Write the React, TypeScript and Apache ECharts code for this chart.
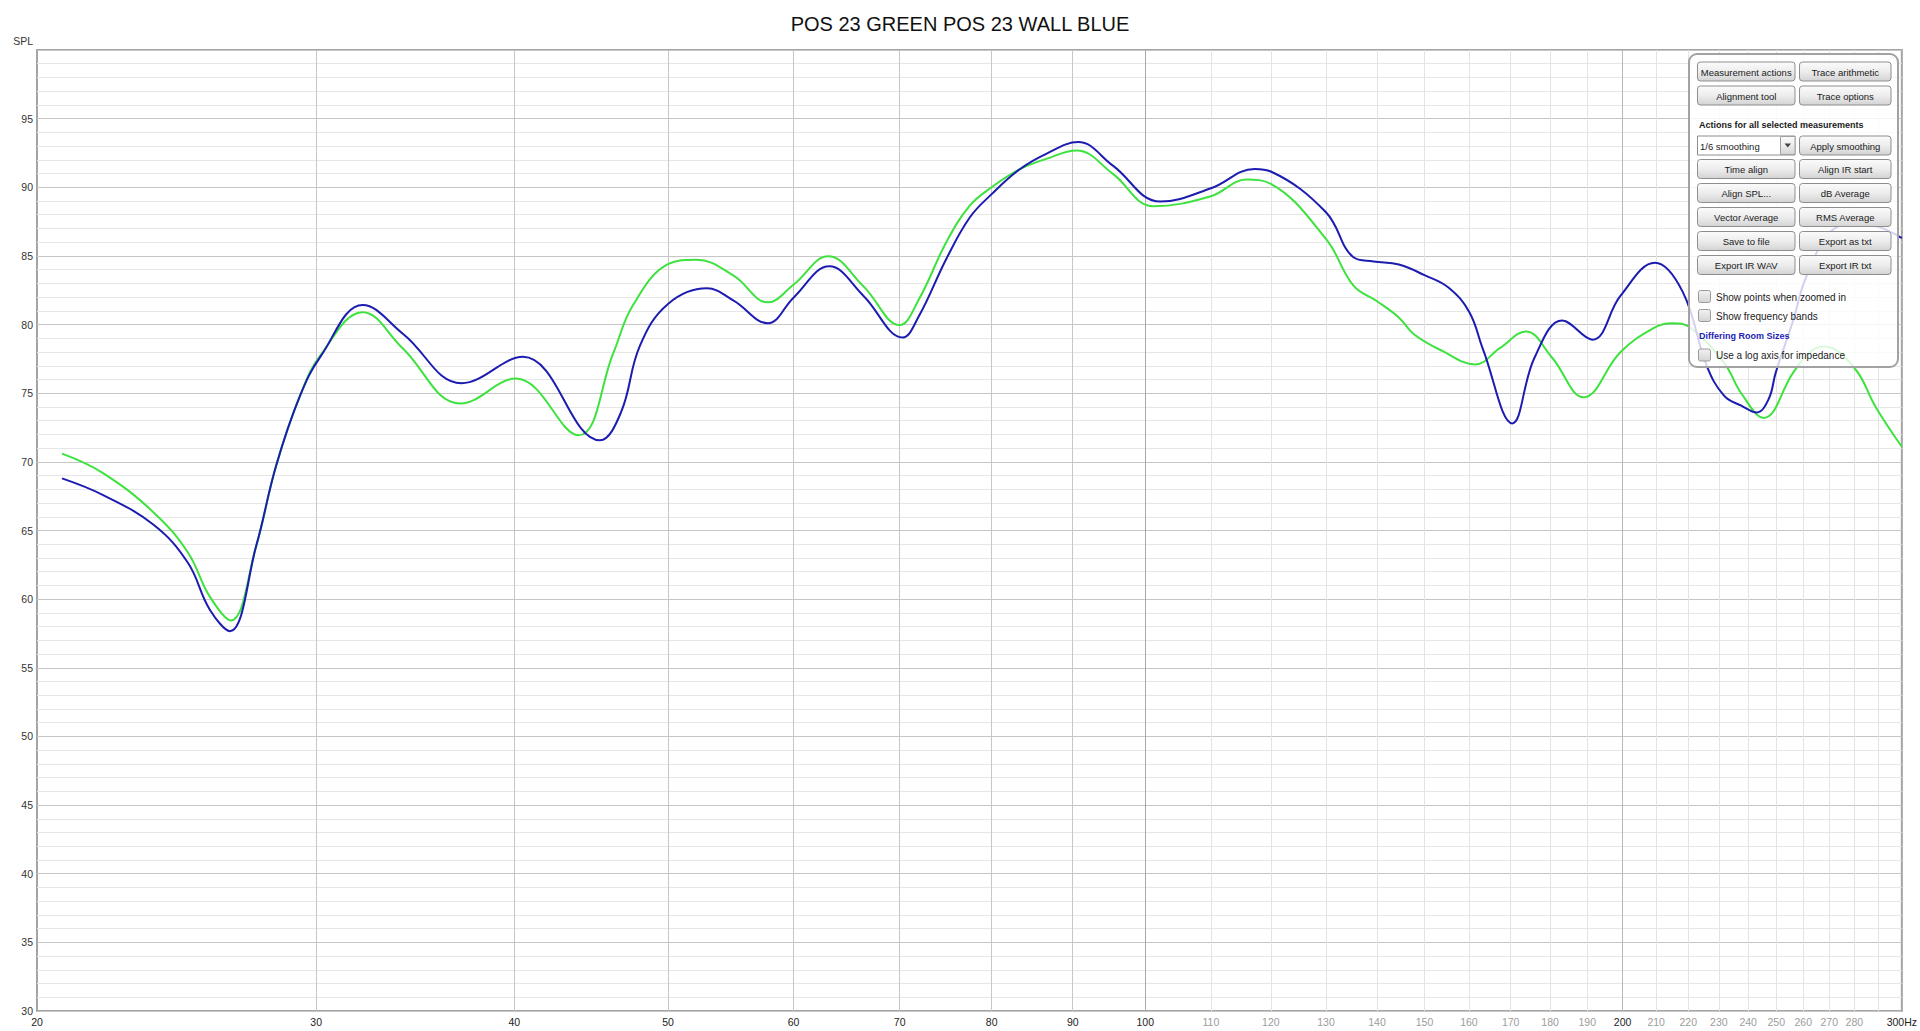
import React, { useEffect, useRef } from "react";
import * as echarts from "echarts";

const chartTitle = "POS 23 GREEN POS 23 WALL BLUE";
const yAxisName = "SPL";

// Green trace: frequency (Hz) and SPL (dB)
const greenFreq = [
  20.74, 22.0, 23.7, 24.9, 25.7, 26.5, 27.5, 28.3, 29.3, 30.2, 32.1, 34.0, 37.0, 40.1, 43.9,
  46.2, 47.5, 50.0, 52.1, 55.0, 57.8, 60.0, 63.1, 66.4, 70.0, 72.0, 74.9, 77.5, 80.0, 83.3, 86.6,
  90.5, 95.4, 101.2, 110, 115.8, 120, 130, 135.3, 140, 144.5, 147.7, 153.8, 161.5, 167.4, 173.8,
  180.5, 189, 199.4, 209.6, 215, 220.5, 231.8, 237.6, 245.5, 256.2, 262.6, 268, 280.2, 288.8, 300,
];
const greenSpl = [
  70.6, 69.2, 66.3, 63.4, 60.2, 58.45, 63.9, 69.7, 74.8, 77.8, 80.9, 78.3, 74.25, 76.07, 71.94,
  77.97, 81.37, 84.4, 84.73, 83.56, 81.62, 82.9, 84.97, 82.8, 79.96, 81.86, 86.0, 88.66, 90.0, 91.3, 92.07,
  92.68, 90.98, 88.62, 89.35, 90.56, 90.25, 86.24, 82.83, 81.7, 80.52, 79.3, 78.1, 77.1, 78.3, 79.5,
  77.6, 74.7, 78.0, 79.8, 80.1, 79.8, 77.2, 75.0, 73.2, 76.5, 78.0, 78.4, 76.8, 74.0, 71.1,
];

// Blue trace: frequency (Hz) and SPL (dB)
const blueFreq = [
  20.74, 22.0, 23.7, 24.9, 25.7, 26.46, 27.5, 28.3, 29.3, 30.2, 32.1, 34.05, 37.05, 40.5, 45.3,
  46.7, 48.0, 50.0, 52.9, 55.0, 57.8, 60.0, 63.2, 66.4, 70.3, 72.0, 74.9, 77.5, 80, 83.3, 86.6, 90.7,
  95.4, 102.2, 110, 117.2, 120, 130, 135.3, 139.3, 144.5, 150, 155.3, 160.1, 163.3, 170.4, 176.0,
  183.2, 191.4, 199.4, 209.6, 218.2, 226.0, 231.8, 237.6, 243.0, 247.3, 249.8, 256.2, 261.2, 272.0,
  281, 290.3, 300,
];
const blueSpl = [
  68.8, 67.6, 65.4, 62.65, 59.25, 57.67, 63.9, 69.7, 74.8, 77.7, 81.42, 79.3, 75.73, 77.65, 71.57,
  73.6, 78.45, 81.5, 82.64, 81.74, 80.1, 81.96, 84.24, 82.1, 79.06, 80.64, 84.78, 87.8, 89.5, 91.3, 92.44, 93.29,
  91.58, 88.96, 89.93, 91.34, 91.15, 88.18, 84.9, 84.6, 84.37, 83.6, 82.7, 80.9, 78.2, 72.8, 77.6,
  80.3, 78.9, 82.1, 84.5, 82.4, 77.0, 74.8, 74.1, 73.6, 74.6, 76.5, 80.3, 83.5, 87.0,
  87.3, 87.1, 86.3,
];

// Axis definitions
const xMinHz = 20;
const xMaxHz = 300;
const xGridFreqs = [
  30, 40, 50, 60, 70, 80, 90, 100, 110, 120, 130, 140, 150, 160, 170, 180, 190, 200,
  210, 220, 230, 240, 250, 260, 270, 280, 290,
];
const xLabelFreqs = [20, ...xGridFreqs, 300];
const xDarkLabels = [20, 30, 40, 50, 60, 70, 80, 90, 100, 200, 300];
const xHiddenLabels = [290];
const yMin = 30;
const yMax = 100;
const yInterval = 5;

// Overlay panel contents
const panelButtonRowsTop = [
  ["Measurement actions", "Trace arithmetic"],
  ["Alignment tool", "Trace options"],
];
const panelHeader = "Actions for all selected measurements";
const smoothingChoice = "1/6 smoothing";
const smoothingButton = "Apply smoothing";
const panelButtonRowsBottom = [
  ["Time align", "Align IR start"],
  ["Align SPL...", "dB Average"],
  ["Vector Average", "RMS Average"],
  ["Save to file", "Export as txt"],
  ["Export IR WAV", "Export IR txt"],
];
const checkboxLabels = ["Show points when zoomed in", "Show frequency bands"];
const linkLabel = "Differing Room Sizes";
const lastCheckbox = "Use a log axis for impedance";

const FONT = '"Liberation Sans", Arial, Helvetica, sans-serif';

function txt(text: string, x: number, y: number, opts: any = {}) {
  const align = opts.align || "left";
  return {
    type: "text",
    z: 102,
    style: {
      text,
      x,
      y,
      fill: opts.fill || "#1a1a1a",
      fontSize: opts.fontSize || 9.5,
      fontFamily: FONT,
      fontWeight: opts.fontWeight || "normal",
      align,
      verticalAlign: "middle",
      textAlign: align,
      textVerticalAlign: "middle",
    },
  };
}

function btnGrad() {
  return new echarts.graphic.LinearGradient(0, 0, 0, 1, [
    { offset: 0, color: "#fbfbfb" },
    { offset: 0.5, color: "#ededed" },
    { offset: 1, color: "#d3d3d3" },
  ]);
}

function button(label: string, x: number, y: number, w: number, h: number) {
  return [
    {
      type: "rect",
      z: 101,
      shape: { x, y, width: w, height: h, r: 3 },
      style: { fill: btnGrad(), stroke: "#8e8e8e", lineWidth: 1 },
    },
    txt(label, x + w / 2, y + h / 2 + 0.5, { align: "center" }),
  ];
}

function checkbox(label: string, y: number) {
  return [
    {
      type: "rect",
      z: 101,
      shape: { x: 1698.5, y: y - 6, width: 12, height: 12, r: 2 },
      style: {
        fill: new echarts.graphic.LinearGradient(0, 0, 0, 1, [
          { offset: 0, color: "#f2f2f2" },
          { offset: 1, color: "#d4d4d4" },
        ]),
        stroke: "#9a9a9a",
        lineWidth: 1,
      },
    },
    txt(label, 1716, y + 0.5, { fontSize: 10 }),
  ];
}

function buildPanel() {
  const els: any[] = [];
  els.push({
    type: "rect",
    z: 100,
    shape: { x: 1689, y: 54, width: 209, height: 313, r: 8 },
    style: { fill: "rgba(255,255,255,0.8)", stroke: "#a2a2a2", lineWidth: 2 },
  });
  const lx = 1697.5, lw = 97.5, rx = 1799.5, rw = 91.5, bh = 19;
  const topRows = [62, 86];
  panelButtonRowsTop.forEach((row, i) => {
    els.push(...button(row[0], lx, topRows[i], lw, bh));
    els.push(...button(row[1], rx, topRows[i], rw, bh));
  });
  els.push(txt(panelHeader, 1699, 124.5, { fontWeight: "bold", fontSize: 9 }));
  // dropdown
  els.push({
    type: "rect",
    z: 101,
    shape: { x: lx, y: 136, width: lw, height: bh },
    style: { fill: "#ffffff", stroke: "#8e8e8e", lineWidth: 1 },
  });
  els.push({
    type: "rect",
    z: 101,
    shape: { x: 1780.5, y: 136.5, width: 14.5, height: bh - 1 },
    style: { fill: btnGrad(), stroke: "#a0a0a0", lineWidth: 1 },
  });
  els.push({
    type: "polygon",
    z: 102,
    shape: { points: [[1784.5, 143.5], [1791, 143.5], [1787.75, 147.5]] },
    style: { fill: "#444" },
  });
  els.push(txt(smoothingChoice, 1700, 146, {}));
  els.push(...button(smoothingButton, rx, 136, rw, bh));
  const bottomRows = [159.5, 183.5, 207.5, 231.5, 255.5];
  panelButtonRowsBottom.forEach((row, i) => {
    els.push(...button(row[0], lx, bottomRows[i], lw, bh));
    els.push(...button(row[1], rx, bottomRows[i], rw, bh));
  });
  els.push(...checkbox(checkboxLabels[0], 296.5));
  els.push(...checkbox(checkboxLabels[1], 315.5));
  els.push(txt(linkLabel, 1699, 335.5, { fontWeight: "bold", fontSize: 9, fill: "#1d1db4" }));
  els.push(...checkbox(lastCheckbox, 355));
  return els;
}

function gridColor(f: number) {
  if (f === 100) return "#a8a8a8";
  if (f === 200) return "#b8b8b8";
  if (f < 100) return "#c6c6c6";
  return "#e3e3e3";
}

export default function App() {
  const ref = useRef<HTMLDivElement>(null);
  useEffect(() => {
    if (!ref.current) return;
    document.body.style.margin = "0";
    const chart = echarts.init(ref.current, null, { renderer: "svg" });
    const lg = (f: number) => Math.log10(f);
    const option: any = {
      animation: false,
      backgroundColor: "#ffffff",
      title: {
        text: chartTitle,
        left: "center",
        top: 9,
        textStyle: { fontSize: 20, fontWeight: "normal", color: "#111", fontFamily: FONT },
      },
      grid: {
        left: 37,
        right: 18,
        top: 50,
        bottom: 20,
        show: true,
        borderColor: "#a4a4a4",
        borderWidth: 2,
        backgroundColor: "transparent",
      },
      xAxis: {
        type: "value",
        min: lg(xMinHz),
        max: lg(xMaxHz),
        axisLine: { show: false },
        axisTick: { show: false, customValues: xGridFreqs.map(lg) },
        splitLine: {
          show: true,
          showMinLine: true,
          showMaxLine: true,
          lineStyle: { color: xGridFreqs.map(gridColor), width: 1 },
        },
        axisLabel: {
          customValues: xLabelFreqs.map(lg),
          showMinLabel: true,
          showMaxLabel: true,
          margin: 5,
          formatter: (v: number) => {
            const f = Math.round(Math.pow(10, v));
            if (xHiddenLabels.includes(f)) return "";
            const t = f === xMaxHz ? `${f}Hz` : `${f}`;
            return xDarkLabels.includes(f) ? `{d|${t}}` : `{g|${t}}`;
          },
          rich: {
            d: { color: "#222", fontSize: 10.5, fontFamily: FONT },
            g: { color: "#9c9c9c", fontSize: 10.5, fontFamily: FONT },
          },
        },
      },
      yAxis: {
        type: "value",
        min: yMin,
        max: yMax,
        interval: yInterval,
        name: yAxisName,
        nameLocation: "end",
        nameGap: 4,
        nameTextStyle: {
          align: "right",
          verticalAlign: "bottom",
          padding: [0, 4, 0, 0],
          color: "#333",
          fontSize: 10.5,
          fontFamily: FONT,
        },
        axisLine: { show: false },
        axisTick: { show: false },
        minorTick: { show: false, splitNumber: 5 },
        minorSplitLine: { show: true, lineStyle: { color: "#e6e6e6", width: 1 } },
        splitLine: { show: true, lineStyle: { color: "#c6c6c6", width: 1 } },
        axisLabel: {
          margin: 4,
          color: "#333",
          fontSize: 10.5,
          fontFamily: FONT,
          formatter: (v: number) => (v === yMax ? "" : `${v}`),
        },
      },
      series: [
        {
          name: "POS 23 GREEN",
          type: "line",
          data: greenFreq.map((f, i) => [lg(f), greenSpl[i]]),
          smooth: 0.4,
          showSymbol: false,
          symbol: "none",
          lineStyle: { color: "#3ee23e", width: 2 },
          z: 3,
        },
        {
          name: "POS 23 WALL BLUE",
          type: "line",
          data: blueFreq.map((f, i) => [lg(f), blueSpl[i]]),
          smooth: 0.4,
          showSymbol: false,
          symbol: "none",
          lineStyle: { color: "#1c1cb0", width: 2 },
          z: 4,
        },
      ],
      graphic: buildPanel(),
    };
    chart.setOption(option);
    return () => chart.dispose();
  }, []);
  return (
    <div
      ref={ref}
      style={{ position: "absolute", left: 0, top: 0, width: 1920, height: 1031, background: "#fff" }}
    />
  );
}
